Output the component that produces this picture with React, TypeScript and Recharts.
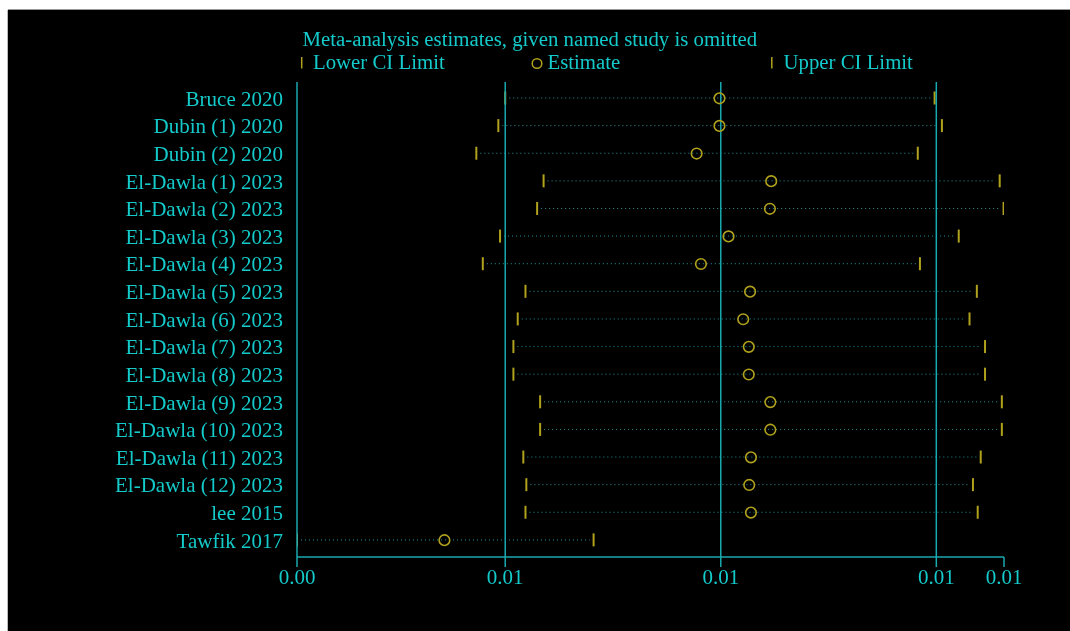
import { Bar, ComposedChart, Line, ReferenceLine, XAxis, YAxis } from "recharts";

const studies = [
  "Bruce 2020",
  "Dubin (1) 2020",
  "Dubin (2) 2020",
  "El-Dawla (1) 2023",
  "El-Dawla (2) 2023",
  "El-Dawla (3) 2023",
  "El-Dawla (4) 2023",
  "El-Dawla (5) 2023",
  "El-Dawla (6) 2023",
  "El-Dawla (7) 2023",
  "El-Dawla (8) 2023",
  "El-Dawla (9) 2023",
  "El-Dawla (10) 2023",
  "El-Dawla (11) 2023",
  "El-Dawla (12) 2023",
  "lee 2015",
  "Tawfik 2017",
];

const lowerCI = [
  0.0050, 0.00484, 0.00433, 0.00589, 0.00574, 0.00488, 0.00448, 0.00547, 0.00529,
  0.00519, 0.00519, 0.00581, 0.00581, 0.00542, 0.00549, 0.00547, 0.00017,
];
const estimates = [
  0.00997, 0.00997, 0.00944, 0.01117, 0.01114, 0.01018, 0.00954, 0.01068, 0.01052,
  0.01065, 0.01065, 0.01115, 0.01115, 0.0107, 0.01066, 0.0107, 0.00359,
];
const upperCI = [
  0.01496, 0.01513, 0.01457, 0.01647, 0.01656, 0.01552, 0.01462, 0.01594, 0.01577,
  0.01613, 0.01613, 0.01652, 0.01652, 0.01603, 0.01585, 0.01596, 0.00705,
];

const X_MIN = 0.00017;
const X_MAX = 0.01657;
const xTicks = [X_MIN, 0.005, 0.01, 0.015, X_MAX];
const xTickLabels = ["0.00", "0.01", "0.01", "0.01", "0.01"];
const gridLines = [0.005, 0.01, 0.015];

const TEXT = "#14caca";
const LINE = "#19a9b0";
const YELLOW = "#b0a21c";
const DOTS = "#1c9599";
const FONT = "'Liberation Serif', 'Times New Roman', serif";

const data = studies.map((name, i) => ({
  name,
  est: estimates[i],
  range: [lowerCI[i], upperCI[i]],
}));

const RangeShape = (props: any) => {
  const { x, y, width, height } = props;
  const cy = y + height / 2;
  return (
    <g>
      <line x1={x + 4} y1={cy} x2={x + width - 4} y2={cy} stroke={DOTS} strokeWidth={1} strokeDasharray="1 3" />
      <line x1={x} y1={y} x2={x} y2={y + height} stroke={YELLOW} strokeWidth={2} />
      <line x1={x + width} y1={y} x2={x + width} y2={y + height} stroke={YELLOW} strokeWidth={2} />
    </g>
  );
};

const EstimateDot = (props: any) => (
  <circle key={`est-${props.index}`} cx={props.cx} cy={props.cy} r={5.3} fill="none" stroke={YELLOW} strokeWidth={1.6} />
);

export default function App() {
  return (
    <div
      style={{
        position: "fixed",
        left: 8,
        top: 10,
        width: 1062,
        height: 621,
        background: "#000",
        boxShadow: "0 -1px 0 #999, -1px 0 0 #bbb",
        fontFamily: FONT,
      }}
    >
      <svg width={1062} height={80} style={{ position: "absolute", left: 0, top: 0 }}>
        <text x={294.5} y={35.7} fill={TEXT} fontSize={20.8} fontFamily={FONT}>
          Meta-analysis estimates, given named study is omitted
        </text>
        <line x1={293.7} y1={47} x2={293.7} y2={58.5} stroke={YELLOW} strokeWidth={1.5} />
        <text x={305} y={59.3} fill={TEXT} fontSize={20.8} fontFamily={FONT}>Lower CI Limit</text>
        <circle cx={529} cy={53.5} r={4.8} fill="none" stroke={YELLOW} strokeWidth={1.5} />
        <text x={539.5} y={59.3} fill={TEXT} fontSize={20.8} fontFamily={FONT}>Estimate</text>
        <line x1={763.8} y1={47} x2={763.8} y2={58.5} stroke={YELLOW} strokeWidth={1.5} />
        <text x={775.5} y={59.3} fill={TEXT} fontSize={20.8} fontFamily={FONT}>Upper CI Limit</text>
      </svg>
      <ComposedChart
        width={1062}
        height={621}
        data={data}
        layout="vertical"
        margin={{ top: 72, right: 66, bottom: 44, left: 0 }}
      >
        <XAxis
          type="number"
          domain={[X_MIN, X_MAX]}
          ticks={xTicks}
          interval={0}
          allowDataOverflow
          tickFormatter={(_v: number, i: number) => xTickLabels[i]}
          height={30}
          tickSize={10}
          tickMargin={2}
          axisLine={{ stroke: LINE, strokeWidth: 1.5 }}
          tickLine={{ stroke: LINE, strokeWidth: 1.5 }}
          tick={{ fill: TEXT, fontSize: 21, fontFamily: FONT }}
        />
        <YAxis
          type="category"
          dataKey="name"
          width={289}
          padding={{ top: 2.5, bottom: 3 }}
          tickLine={false}
          tickSize={0}
          tickMargin={14}
          interval={0}
          axisLine={{ stroke: LINE, strokeWidth: 1.5 }}
          tick={{ fill: TEXT, fontSize: 21, fontFamily: FONT }}
        />
        {gridLines.map((v) => (
          <ReferenceLine key={v} x={v} stroke={LINE} strokeWidth={1.5} />
        ))}
        <Bar dataKey="range" barSize={13} shape={RangeShape} isAnimationActive={false} />
        <Line
          dataKey="est"
          stroke="none"
          strokeWidth={0}
          dot={EstimateDot}
          activeDot={false}
          isAnimationActive={false}
        />
      </ComposedChart>
    </div>
  );
}
